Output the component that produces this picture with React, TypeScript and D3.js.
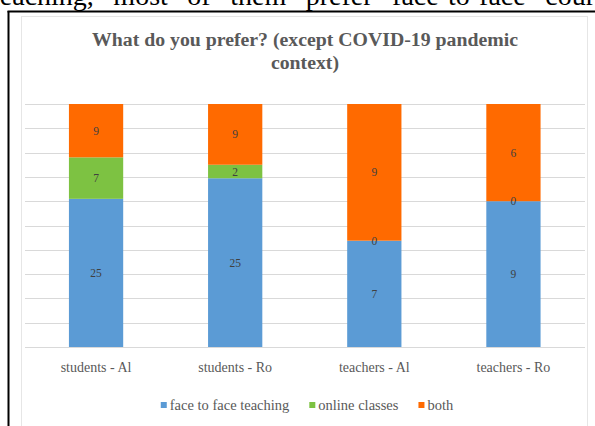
import React, { useEffect, useRef } from "react";
import * as d3 from "d3";

// Survey answers per group
const categories = ["students - Al", "students - Ro", "teachers - Al", "teachers - Ro"];
const seriesNames = ["face to face teaching", "online classes", "both"];
const faceToFace = [25, 25, 7, 9];
const onlineClasses = [7, 2, 0, 0];
const both = [9, 9, 9, 6];
const seriesColors = ["#5B9BD5", "#7DC242", "#FF6A00"];
const gridTicks = d3.range(0, 10.5, 1).map((d) => d / 10);
const titleLines = ["What  do you prefer? (except COVID-19 pandemic", "context)"];
const pageText = "teaching, most of them prefer face-to-face cour";

const W = 595;
const H = 426;
const SERIF = "'Liberation Serif', 'Times New Roman', serif";

export default function App() {
  const ref = useRef<SVGSVGElement | null>(null);

  useEffect(() => {
    const svg = d3.select(ref.current);
    svg.selectAll("*").remove();

    // surrounding page: justified sentence above the box, cut by the top edge
    const line = svg
      .append("text")
      .attr("x", -8)
      .attr("y", 5)
      .attr("font-family", SERIF)
      .attr("font-size", 28)
      .attr("fill", "#000")
      .text(pageText);
    const natural = (line.node() as SVGTextElement).getComputedTextLength();
    const spaces = pageText.split(" ").length - 1;
    line.attr("word-spacing", Math.max(0, (W + 8 - natural) / spaces));

    svg.append("line").attr("x1", 7.5).attr("x2", W).attr("y1", 11.5).attr("y2", 11.5).attr("stroke", "#000").attr("stroke-width", 2);
    svg.append("line").attr("x1", 8.5).attr("x2", 8.5).attr("y1", 11).attr("y2", H).attr("stroke", "#000").attr("stroke-width", 2);

    // chart area
    svg
      .append("rect")
      .attr("x", 21.5)
      .attr("y", 16.5)
      .attr("width", 566)
      .attr("height", H)
      .attr("fill", "#fff")
      .attr("stroke", "#E6E6E6");

    const cx = 305;
    const title = svg
      .append("text")
      .attr("text-anchor", "middle")
      .attr("font-family", SERIF)
      .attr("font-weight", "bold")
      .attr("font-size", 19.8)
      .attr("fill", "#595959");
    titleLines.forEach((t, i) => {
      title.append("tspan").attr("x", cx).attr("y", 46 + i * 23).text(t);
    });

    const x = d3
      .scaleBand<string>()
      .domain(categories)
      .range([26.5, 583])
      .paddingInner(0.61)
      .paddingOuter(0.305);
    const y = d3.scaleLinear().domain([0, 1]).range([347, 104]);

    svg
      .append("g")
      .selectAll("line")
      .data(gridTicks)
      .join("line")
      .attr("x1", 25)
      .attr("x2", 585)
      .attr("y1", (d) => Math.round(y(d)) + 0.5)
      .attr("y2", (d) => Math.round(y(d)) + 0.5)
      .attr("stroke", "#D9D9D9")
      .attr("stroke-width", 1);

    const rows = categories.map((c, i) => ({
      category: c,
      s0: faceToFace[i],
      s1: onlineClasses[i],
      s2: both[i],
    }));
    const stack = d3
      .stack<any>()
      .keys(["s0", "s1", "s2"])
      .offset(d3.stackOffsetExpand);
    const layers = stack(rows);

    layers.forEach((layer, si) => {
      svg
        .append("g")
        .selectAll("rect")
        .data(layer)
        .join("rect")
        .attr("x", (d) => x(d.data.category)!)
        .attr("width", x.bandwidth())
        .attr("y", (d) => y(d[1]))
        .attr("height", (d) => y(d[0]) - y(d[1]))
        .attr("fill", seriesColors[si]);
    });

    layers.forEach((layer) => {
      svg
        .append("g")
        .selectAll("text")
        .data(layer)
        .join("text")
        .attr("x", (d) => x(d.data.category)! + x.bandwidth() / 2)
        .attr("y", (d) => (y(d[0]) + y(d[1])) / 2)
        .attr("dy", "0.35em")
        .attr("text-anchor", "middle")
        .attr("font-family", SERIF)
        .attr("font-size", 11.5)
        .attr("fill", "#404040")
        .text((d) => String(d.data[layer.key]));
    });

    // category axis labels
    svg
      .append("g")
      .selectAll("text")
      .data(categories)
      .join("text")
      .attr("x", (d) => x(d)! + x.bandwidth() / 2)
      .attr("y", 372)
      .attr("text-anchor", "middle")
      .attr("font-family", SERIF)
      .attr("font-size", 14)
      .attr("fill", "#595959")
      .text((d) => d);

    // legend, centered under the plot
    const legend = svg.append("g");
    const items = seriesNames.map((name, i) => {
      const g = legend.append("g");
      g.append("rect").attr("x", 0).attr("y", -3).attr("width", 6).attr("height", 6).attr("fill", seriesColors[i]);
      const t = g
        .append("text")
        .attr("x", 9)
        .attr("y", 0)
        .attr("dy", "0.35em")
        .attr("font-family", SERIF)
        .attr("font-size", 14.5)
        .attr("fill", "#595959")
        .text(name);
      const w = 9 + (t.node() as SVGTextElement).getComputedTextLength();
      return { g, w };
    });
    const gap = 20;
    const total = d3.sum(items, (d) => d.w) + gap * (items.length - 1);
    let lx = 307 - total / 2;
    items.forEach((it) => {
      it.g.attr("transform", `translate(${lx},405)`);
      lx += it.w + gap;
    });
  }, []);

  return (
    <svg
      ref={ref}
      width={W}
      height={H}
      viewBox={`0 0 ${W} ${H}`}
      style={{ position: "absolute", left: 0, top: 0, background: "#fff" }}
    />
  );
}
